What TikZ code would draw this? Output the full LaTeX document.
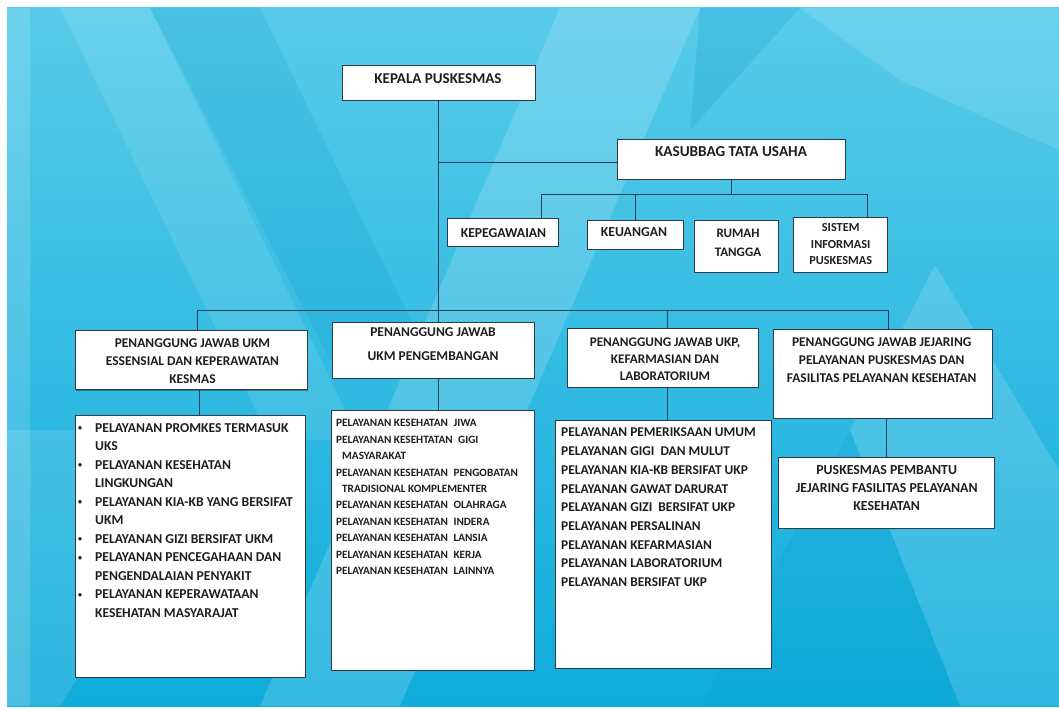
\documentclass[tikz,border=0pt]{standalone}
\usepackage{fontspec}
\setmainfont{Carlito}
\usetikzlibrary{shadows}

\definecolor{bgtop}{HTML}{58CBEA}
\definecolor{bgbot}{HTML}{0FACDB}
\definecolor{bgdark}{HTML}{0A98C8}
\definecolor{linec}{HTML}{1D3F57}
\definecolor{boxc}{HTML}{2E3B44}
\definecolor{txtc}{HTML}{1E1E1E}

\tikzset{
  box/.style={draw=boxc, fill=white, line width=0.7pt, inner sep=0pt,
    drop shadow={shadow xshift=1.2pt, shadow yshift=-1.2pt, opacity=0.35, fill=black}},
  conn/.style={draw=linec, line width=1pt},
  lbl/.style={inner sep=0pt, text=txtc, align=center},
  lst/.style={inner sep=0pt, text=txtc, align=left, anchor=west},
}
\newcommand{\fs}[2]{\fontsize{#1}{#2}\selectfont\bfseries}
\newcommand{\bul}{\makebox[18pt][l]{\hspace{1pt}{\fontsize{8}{8}\selectfont\raisebox{1.6pt}{\textbullet}}}}

\begin{document}
\begin{tikzpicture}[x=1pt,y=-1pt]
% page and background
\useasboundingbox (0,0) rectangle (1059,711);
\fill[white] (0,0) rectangle (1059,711);
\shade[top color=bgtop, bottom color=bgbot] (7,8) rectangle (1059,706);
\begin{scope}
  \clip (7,8) rectangle (1059,706);
  \fill[white, opacity=0.14] (7,8) -- (30,8) -- (30,706) -- (7,706) -- cycle;
  \fill[white, opacity=0.10] (60,8) -- (150,8) -- (360,440) -- (270,440) -- cycle;
  \fill[bgdark, opacity=0.18] (150,8) -- (260,8) -- (430,360) -- (330,360) -- cycle;
  \fill[white, opacity=0.16] (560,8) -- (700,8) -- (400,706) -- (260,706) -- cycle;
  \fill[bgdark, opacity=0.20] (700,8) -- (800,8) -- (690,130) -- cycle;
  \fill[white, opacity=0.12] (800,8) -- (1059,8) -- (1059,150) -- (900,80) -- cycle;
  \fill[white, opacity=0.14] (935,265) -- (1059,470) -- (1059,706) -- (960,706) -- (850,430) -- cycle;
  \fill[bgdark, opacity=0.15] (700,706) -- (850,430) -- (960,706) -- cycle;
  \fill[white, opacity=0.12] (7,430) -- (230,430) -- (60,706) -- (7,706) -- cycle;
\end{scope}

% boxes
\node[box, minimum width=193pt, minimum height=35pt] (kepala)   at (438.5,82.5) {};
\node[box, minimum width=228pt, minimum height=40pt] (kasubbag) at (731,159) {};
\node[box, minimum width=111pt, minimum height=28pt] (kepeg)    at (502.5,232) {};
\node[box, minimum width=96pt,  minimum height=29pt] (keuangan) at (635,234.5) {};
\node[box, minimum width=84pt,  minimum height=52pt] (rumah)    at (736,246) {};
\node[box, minimum width=94pt,  minimum height=55pt] (sistem)   at (840,244.5) {};

\node[box, minimum width=232pt, minimum height=59pt] (box1) at (191,360.3) {};
\node[box, minimum width=202pt, minimum height=56pt] (box2) at (433,350) {};
\node[box, minimum width=191pt, minimum height=59pt] (box3) at (662.5,357.5) {};
\node[box, minimum width=219pt, minimum height=89pt] (box4) at (882.5,373.5) {};

\node[box, minimum width=230pt, minimum height=262pt] (list1) at (190,546) {};
\node[box, minimum width=203pt, minimum height=260pt] (list2) at (432.5,540) {};
\node[box, minimum width=216pt, minimum height=248pt] (list3) at (663,544) {};
\node[box, minimum width=216pt, minimum height=71pt]  (pembantu) at (886,492.5) {};

% junction points of the connector lines
\coordinate (busA)  at (438.5,162.7);
\coordinate (busB)  at (541,195);
\coordinate (busBr) at (867.5,195);
\coordinate (busC)  at (197,310);
\coordinate (busC3) at (667,310);
\coordinate (busCr) at (888,310);
\coordinate (drop1) at (199,400);

% connectors
\draw[conn] (kepala.south) -- (kepala.south |- box2.north);
\draw[conn] (busA) -- (busA -| kasubbag.west);
\draw[conn] (kasubbag.south) -- (kasubbag.south |- busB);
\draw[conn] (busB) -- (busBr);
\draw[conn] (busB) -- (busB |- kepeg.north);
\draw[conn] (keuangan.north |- busB) -- (keuangan.north);
\draw[conn] (busBr) -- (busBr |- sistem.north);
\draw[conn] (busC) -- (busCr);
\draw[conn] (busC) -- (busC |- box1.north);
\draw[conn] (busC3) -- (busC3 |- box3.north);
\draw[conn] (busCr) -- (busCr |- box4.north);
\draw[conn] (drop1 |- box1.south) -- (drop1 |- list1.north);
\draw[conn] (kepala.south |- box2.south) -- (kepala.south |- list2.north);
\draw[conn] (busC3 |- box3.south) -- (busC3 |- list3.north);
\draw[conn] (pembantu.north |- box4.south) -- (pembantu.north);

% texts of the boxes
\node[lbl, font=\fs{15}{17}] (tkepala) at (438,79) {KEPALA PUSKESMAS};
\node[lbl, font=\fs{15.2}{17}] (tkasub) at (731,152) {KASUBBAG TATA USAHA};
\node[lbl, font=\fs{13.7}{15}] (tkepeg) at (503.5,232.7) {KEPEGAWAIAN};
\node[lbl, font=\fs{13.7}{15}] (tkeu) at (634,231.7) {KEUANGAN};
\node[lbl, font=\fs{13}{18.7}] (trumah) at (738,242.5) {RUMAH\\TANGGA};
\node[lbl, font=\fs{12.3}{16.5}] (tsistem) at (840.7,244.5) {SISTEM\\INFORMASI\\PUSKESMAS};

\node[lbl, font=\fs{13.4}{18}] (tbox1) at (192.5,361) {PENANGGUNG JAWAB UKM\\ESSENSIAL DAN KEPERAWATAN\\KESMAS};
\node[lbl, font=\fs{13.5}{24}] (tbox2) at (433,344) {PENANGGUNG JAWAB\\UKM PENGEMBANGAN};
\node[lbl, font=\fs{13.2}{17}] (tbox3) at (665,359) {PENANGGUNG JAWAB UKP,\\KEFARMASIAN DAN\\LABORATORIUM};
\node[lbl, font=\fs{13.4}{18}] (tbox4) at (881.7,360) {PENANGGUNG JAWAB JEJARING\\PELAYANAN PUSKESMAS DAN\\FASILITAS PELAYANAN KESEHATAN};
\node[lbl, font=\fs{13.8}{18}] (tpemb) at (886.7,488) {PUSKESMAS PEMBANTU\\JEJARING FASILITAS PELAYANAN\\KESEHATAN};

% list contents
\node[lst, font=\fs{13.6}{18.5}] (tlist1) at (77,520.5) {%
\bul PELAYANAN PROMKES TERMASUK\\
\hspace*{18pt}UKS\\
\bul PELAYANAN KESEHATAN\\
\hspace*{18pt}LINGKUNGAN\\
\bul PELAYANAN KIA-KB YANG BERSIFAT\\
\hspace*{18pt}UKM\\
\bul PELAYANAN GIZI BERSIFAT UKM\\
\bul PELAYANAN PENCEGAHAAN DAN\\
\hspace*{18pt}PENGENDALAIAN PENYAKIT\\
\bul PELAYANAN KEPERAWATAAN\\
\hspace*{18pt}KESEHATAN MASYARAJAT};

\node[lst, font=\fs{11.2}{16.4}] (tlist2) at (336,497) {%
PELAYANAN KESEHATAN\hspace{3pt} JIWA\\
PELAYANAN KESEHTATAN\hspace{3pt} GIGI\\
\hspace*{6pt}MASYARAKAT\\
PELAYANAN KESEHATAN\hspace{3pt} PENGOBATAN\\
\hspace*{6pt}TRADISIONAL KOMPLEMENTER\\
PELAYANAN KESEHATAN\hspace{3pt} OLAHRAGA\\
PELAYANAN KESEHATAN\hspace{3pt} INDERA\\
PELAYANAN KESEHATAN\hspace{3pt} LANSIA\\
PELAYANAN KESEHATAN\hspace{3pt} KERJA\\
PELAYANAN KESEHATAN\hspace{3pt} LAINNYA};

\node[lst, font=\fs{13.4}{18.7}] (tlist3) at (561,507.4) {%
PELAYANAN PEMERIKSAAN UMUM\\
PELAYANAN GIGI\hspace{3pt} DAN MULUT\\
PELAYANAN KIA-KB BERSIFAT UKP\\
PELAYANAN GAWAT DARURAT\\
PELAYANAN GIZI\hspace{3pt} BERSIFAT UKP\\
PELAYANAN PERSALINAN\\
PELAYANAN KEFARMASIAN\\
PELAYANAN LABORATORIUM\\
PELAYANAN BERSIFAT UKP};
\end{tikzpicture}
\end{document}
